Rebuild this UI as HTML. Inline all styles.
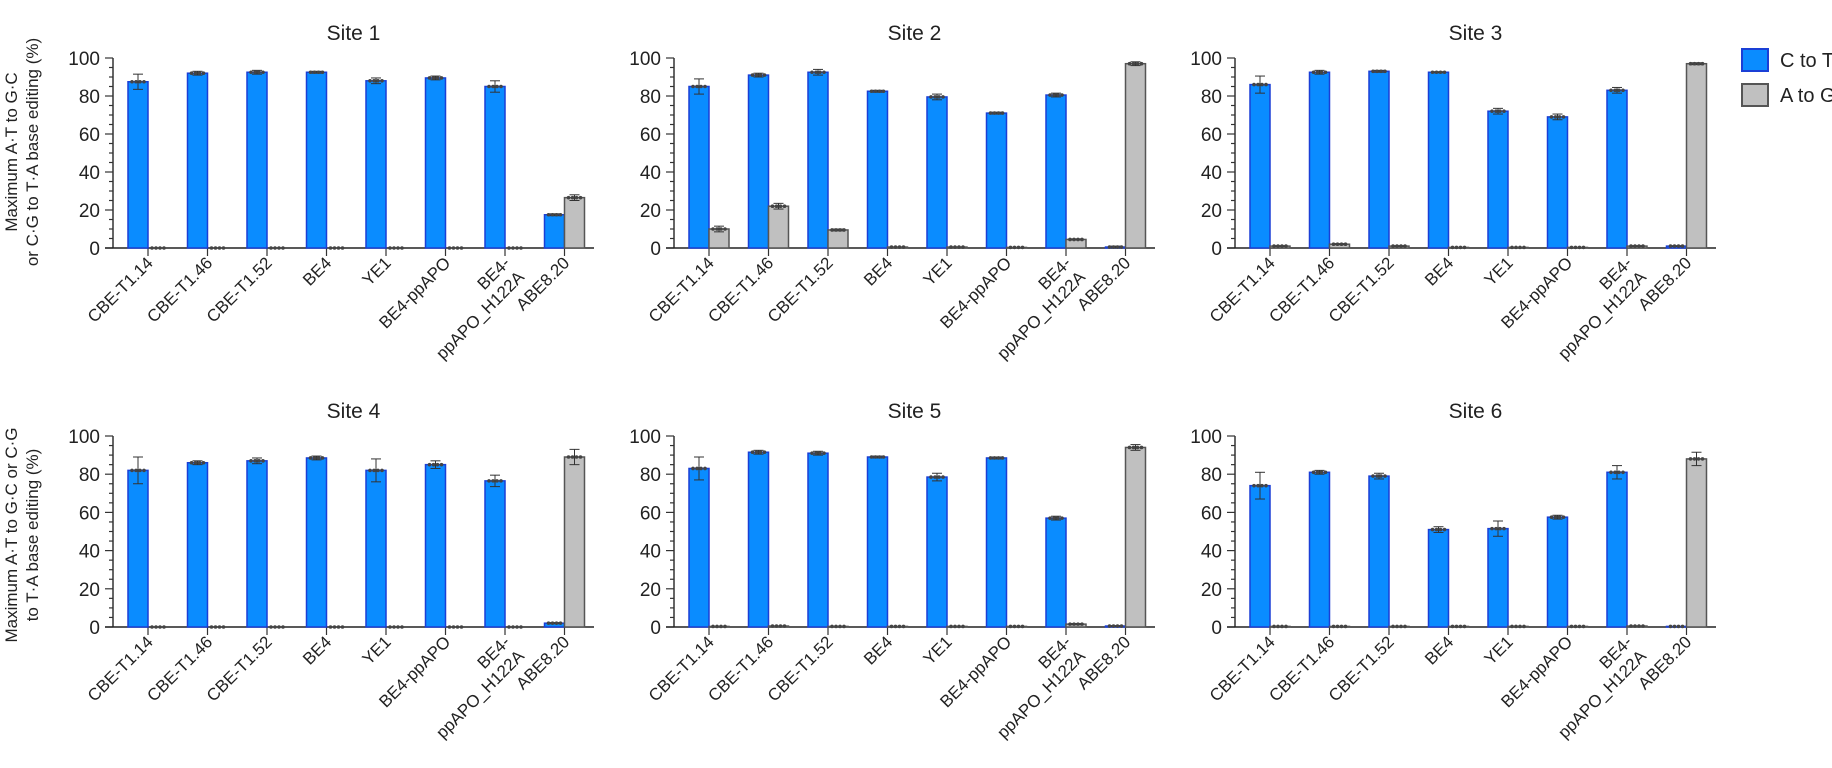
<!DOCTYPE html>
<html><head><meta charset="utf-8"><style>
html,body{margin:0;padding:0;background:#fff;}
svg{display:block;font-family:"Liberation Sans",sans-serif;}
</style></head><body>
<svg id="chart" width="1832" height="768" viewBox="0 0 1832 768" xmlns="http://www.w3.org/2000/svg">
<g>
<rect x="1742" y="49" width="26" height="22" fill="#0a8cff" stroke="#1a3fd6" stroke-width="2"/>
<text x="1780" y="67" font-size="20" fill="#222">C to T</text>
<rect x="1742" y="84" width="26" height="22" fill="#c0c0c0" stroke="#555" stroke-width="2"/>
<text x="1780" y="102" font-size="20" fill="#222">A to G</text>
</g>
<text transform="translate(0,152) rotate(-90)" text-anchor="middle" font-size="17" fill="#222"><tspan x="0" y="17">Maximum A·T to G·C</tspan><tspan x="0" y="38">or C·G to T·A base editing (%)</tspan></text>
<text transform="translate(0,535) rotate(-90)" text-anchor="middle" font-size="17" fill="#222"><tspan x="0" y="17">Maximum A·T to G·C or C·G</tspan><tspan x="0" y="38">to T·A base editing (%)</tspan></text>
</svg>
<script>
const categories = ["CBE-T1.14","CBE-T1.46","CBE-T1.52","BE4","YE1","BE4-ppAPO","BE4-|ppAPO_H122A","ABE8.20"];
const siteTitles = ["Site 1","Site 2","Site 3","Site 4","Site 5","Site 6"];
const yTicks = [0,20,40,60,80,100];
const cToT = [
 [87.5,92,92.5,92.5,88,89.5,85,17.5],
 [85,91,92.5,82.5,79.5,71,80.5,0.5],
 [86,92.5,93,92.5,72,69,83,1],
 [82,86,87,88.5,82,85,76.5,2],
 [83,91.5,91,89,78.5,88.5,57,0.5],
 [74,81,79,51,51.5,57.5,81,0.3]
];
const aToG = [
 [0,0,0,0,0,0,0,26.5],
 [10,22,9.5,0.5,0.5,0.3,4.5,97],
 [1,2,1,0.3,0.3,0.3,1,97],
 [0,0,0,0,0,0,0,89],
 [0.3,0.5,0.3,0.3,0.3,0.3,1.5,94],
 [0.3,0.3,0.3,0.3,0.3,0.3,0.5,88]
];
const cToTsd = [
 [4,1,1,0.5,1.5,1,3,0.5],
 [4,1,1.5,0.5,1.5,0.5,1,0.5],
 [4.5,1,0.5,0.3,1.5,1.5,1.5,0.2],
 [7,1,1.5,1,6,2,3,0.3],
 [6,1,1,0.5,2,0.5,1,0.2],
 [7,1,1.5,1.5,4,1,3.5,0]
];
const aToGsd = [
 [0,0,0,0,0,0,0,1.5],
 [1.5,1.5,0.5,0,0,0,0.3,1],
 [0.2,0.3,0.2,0,0,0,0.2,0.5],
 [0,0,0,0,0,0,0,4],
 [0,0,0,0,0,0,0.3,1.5],
 [0,0,0,0,0,0,0,3.5]
];

const NS="http://www.w3.org/2000/svg";
const svg=document.getElementById('chart');
function mk(tag,attrs,parent){const e=document.createElementNS(NS,tag);for(const k in attrs)e.setAttribute(k,attrs[k]);(parent||svg).appendChild(e);return e;}
const panelX=[113,674,1235];
const panelW=481;
const rowY=[{top:58,bottom:248},{top:436,bottom:627}];
for(let s=0;s<6;s++){
 const ax=panelX[s%3], row=rowY[Math.floor(s/3)];
 const yS=v=>row.bottom-(v/100)*(row.bottom-row.top);
 const xC=i=>ax+35+59.5*i;
 const g=mk('g',{});
 
 
 const t=mk('text',{x:ax+panelW/2,y:row.top-18,'text-anchor':'middle','font-size':21,fill:'#222'},g);
 
 
 t.textContent=siteTitles[s];
 // y axis
 const ya=mk('line',{x1:ax,x2:ax,y1:row.top,y2:row.bottom,stroke:'#333','stroke-width':1.5},g);
 
 
 for(let v=0;v<=100;v+=5){
  const major=v%20===0;
  mk('line',{x1:ax-(major?8:4),x2:ax,y1:yS(v),y2:yS(v),stroke:'#333','stroke-width':1.2},g);
 }
 yTicks.forEach(v=>{
  const tl=mk('text',{x:ax-13,y:yS(v)+7,'text-anchor':'end','font-size':19,fill:'#222'},g);
  
  
  tl.textContent=v;
 });
 const xa=mk('line',{x1:ax-8,x2:ax+panelW,y1:row.bottom,y2:row.bottom,stroke:'#222','stroke-width':1.5},g);
 
 
 categories.forEach((c,i)=>{
  const cx=xC(i);
  mk('line',{x1:cx,x2:cx,y1:row.bottom,y2:row.bottom+8,stroke:'#333','stroke-width':1.2},g);
  const bw=20;
  [[cToT,cToTsd,'#0a8cff','#1a3fd6',cx-bw,'bar-c-to-t'],[aToG,aToGsd,'#c0c0c0','#555',cx,'bar-a-to-g']].forEach(([d,sd,fill,str,x0,nm])=>{
   const v=d[s][i], e=sd[s][i];
   const b=mk('rect',{x:x0,y:yS(v),width:bw,height:Math.max(0,row.bottom-yS(v)),fill:fill,stroke:str,'stroke-width':1.5},g);
   
   
   const mx=x0+bw/2;
   if(e>0){
    mk('line',{x1:mx,x2:mx,y1:yS(v+e),y2:yS(Math.max(0,v-e)),stroke:'#333','stroke-width':1},g);
    mk('line',{x1:mx-5,x2:mx+5,y1:yS(v+e),y2:yS(v+e),stroke:'#333','stroke-width':1},g);
    mk('line',{x1:mx-5,x2:mx+5,y1:yS(Math.max(0,v-e)),y2:yS(Math.max(0,v-e)),stroke:'#333','stroke-width':1},g);
   }
   for(let k=0;k<4;k++){
    mk('circle',{cx:x0+4+k*4,cy:yS(v),r:1.8,fill:'#444'},g);
   }
  });
  const parts=c.split('|');
  const lx=cx+6, ly=row.bottom+16;
  const lt=mk('text',{transform:`translate(${lx},${ly}) rotate(-45)`,'text-anchor':'end','font-size':17,fill:'#222'},g);
  
  
  parts.forEach((p,j)=>{const ts=mk('tspan',{x:0,y:j*20},lt);ts.textContent=p;});
 });
}
</script>
</body></html>
